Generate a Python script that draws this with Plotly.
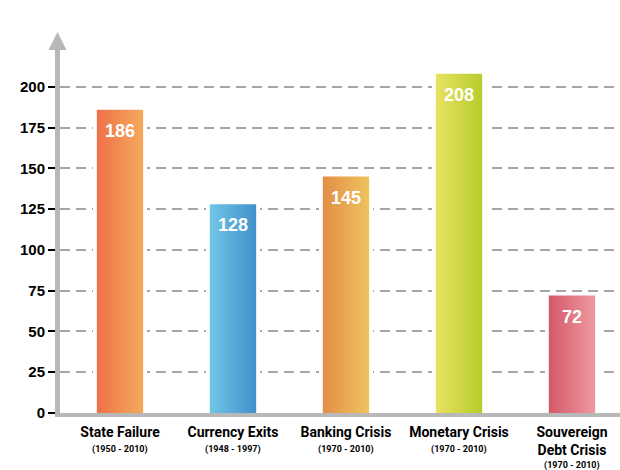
import plotly.graph_objects as go

# Crisis counts by type
categories = ["State Failure", "Currency Exits", "Banking Crisis", "Monetary Crisis", "Souvereign<br>Debt Crisis"]
periods = ["(1950 - 2010)", "(1948 - 1997)", "(1970 - 2010)", "(1970 - 2010)", "(1970 - 2010)"]
values = [186, 128, 145, 208, 72]
y_ticks = [0, 25, 50, 75, 100, 125, 150, 175, 200]

# Left-to-right gradient colours of each bar
bar_colors = [
    ("#ee7048", "#f6aa5e"),
    ("#70c6e6", "#4190cc"),
    ("#e38e46", "#eec35e"),
    ("#e8e262", "#b6cc2a"),
    ("#d4586a", "#ee9aa0"),
]

BAR_W = 0.41
HALO_W = 0.48

fig = go.Figure()

# white halo behind each bar so the dashed grid stops short of it
fig.add_trace(go.Bar(
    x=list(range(len(values))), y=values, width=HALO_W,
    marker=dict(color="white", line=dict(width=0)),
    hoverinfo="skip", showlegend=False,
))

for i, (v, (c0, c1)) in enumerate(zip(values, bar_colors)):
    x0, x1 = i - BAR_W / 2, i + BAR_W / 2
    fig.add_trace(go.Scatter(
        x=[x0, x1, x1, x0, x0], y=[0, 0, v, v, 0],
        mode="lines", fill="toself", line=dict(width=0, color=c1),
        fillgradient=dict(type="horizontal", colorscale=[[0, c0], [1, c1]]),
        hoverinfo="skip", showlegend=False,
    ))
    fig.add_annotation(
        x=i, y=v, text=f"<b>{v}</b>", showarrow=False,
        yanchor="middle", yshift=-21,
        font=dict(family="Liberation Sans, Arial", size=18, color="white"),
    )

# period subtitle below each category name
for i, (c, p) in enumerate(zip(categories, periods)):
    n_lines = c.count("<br>")
    fig.add_annotation(
        x=i, y=0, text=f"<b>{p}</b>", showarrow=False,
        yanchor="top", yshift=-29 - 16 * n_lines,
        font=dict(family="Roboto, Liberation Sans", size=9, color="black"),
    )

fig.update_layout(
    width=620, height=470,
    margin=dict(l=60, r=0, t=38, b=57, autoexpand=False),
    paper_bgcolor="white", plot_bgcolor="white",
    bargap=0,
    xaxis=dict(
        range=[-0.531, 4.425], automargin=False,
        tickmode="array", tickvals=list(range(len(values))),
        ticktext=[f"<b>{c}</b>" for c in categories],
        showgrid=False, zeroline=False,
        showline=True, linecolor="#b8b8b8", linewidth=4,
        ticks="", ticklabelstandoff=3,
        tickfont=dict(family="Roboto, Liberation Sans", size=14, color="black"),
        fixedrange=True,
    ),
    yaxis=dict(
        range=[0, 230], automargin=False,
        tickmode="array", tickvals=y_ticks, ticktext=[f"<b>{t}</b>" for t in y_ticks],
        showgrid=True, gridcolor="#a6a6a6", gridwidth=2, griddash="10px,6px",
        zeroline=False,
        showline=True, linecolor="#b8b8b8", linewidth=5,
        ticks="outside", ticklen=7, tickwidth=2, tickcolor="black",
        tickfont=dict(family="Liberation Sans, Arial", size=15, color="black"),
        fixedrange=True,
    ),
)

# arrowhead on top of the value axis
fig.add_annotation(
    xref="paper", yref="paper", x=0, y=1, ax=0, ay=24,
    text="", showarrow=True, arrowhead=2, arrowsize=0.9,
    arrowwidth=4, arrowcolor="#b8b8b8", xshift=-2.5, yshift=6,
)

fig.write_html("out.html")
